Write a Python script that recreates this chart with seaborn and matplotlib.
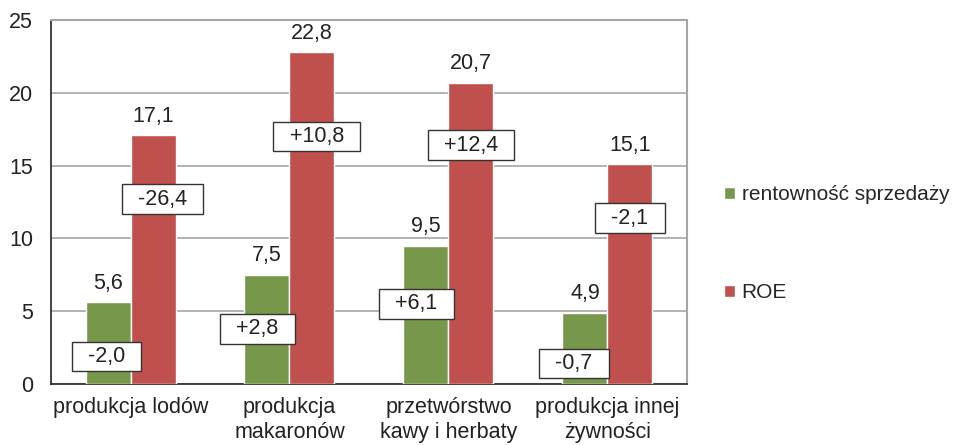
import pandas as pd
import matplotlib
matplotlib.use('Agg')
import matplotlib.pyplot as plt
import seaborn as sns

# Data
categories = ['produkcja lodów', 'produkcja\nmakaronów', 'przetwórstwo\nkawy i herbaty', 'produkcja innej\nżywności']
series_names = ['rentowność sprzedaży', 'ROE']
sales_margin = [5.6, 7.5, 9.5, 4.9]
roe = [17.1, 22.8, 20.7, 15.1]

# Boxed change labels (text and the height where the box sits)
margin_change = ['-2,0', '+2,8', '+6,1', '-0,7']
margin_change_y = [1.9, 3.8, 5.5, 1.4]
roe_change = ['-26,4', '+10,8', '+12,4', '-2,1']
roe_change_y = [12.7, 17.0, 16.4, 11.4]

df = pd.DataFrame({
    'kategoria': categories * 2,
    'seria': [series_names[0]] * 4 + [series_names[1]] * 4,
    'wartosc': sales_margin + roe,
})

sns.set_style('white')
plt.rcParams['font.family'] = ['Liberation Sans', 'DejaVu Sans']

colors = ['#77984B', '#C0504D']
fs = 15.5

fig = plt.figure(figsize=(9.54, 4.45), dpi=100)
ax = fig.add_axes([0.0535, 0.137, 0.6665, 0.818])

sns.barplot(data=df, x='kategoria', y='wartosc', hue='seria', palette=colors,
            width=0.566, gap=0, saturation=1, ax=ax, zorder=3)

# Value labels above bars, Polish decimal comma
for cont in ax.containers:
    labels = [f'{b.get_height():.1f}'.replace('.', ',') for b in cont]
    ax.bar_label(cont, labels=labels, padding=6, fontsize=fs, color='#222222')

# Boxed labels centred on bars
box_style = dict(boxstyle='square,pad=0.2', fc='white', ec='#333333', lw=1)
for cont, texts, ys, dx in [(ax.containers[0], margin_change, margin_change_y, [-0.01, -0.06, -0.06, -0.07]),
                            (ax.containers[1], roe_change, roe_change_y, [0.06, 0.03, 0.0, 0.0])]:
    for bar, t, y, d in zip(cont, texts, ys, dx):
        xc = bar.get_x() + bar.get_width() / 2 + d
        ax.text(xc, y, '  ' + t + '  ', ha='center', va='center', fontsize=fs,
                color='#222222', bbox=box_style, zorder=5)

ax.set_ylim(0, 25)
ax.set_xlim(-0.5, 3.5)
ax.set_yticks(range(0, 26, 5))
ax.set_xlabel('')
ax.set_ylabel('')
ax.yaxis.grid(True, color='#A6A6A6', lw=1.2, zorder=0)
ax.set_axisbelow(True)

# category labels centred, tick marks on category boundaries
ax.set_xticks(range(4))
ax.set_xticklabels(categories, fontsize=fs, linespacing=1.25, color='#222222')
ax.tick_params(axis='x', which='major', length=0, pad=9)
ax.set_xticks([-0.5, 0.5, 1.5, 2.5, 3.5], minor=True)
ax.tick_params(axis='x', which='minor', length=6, width=1.2, color='#333333', direction='out')
ax.tick_params(axis='y', length=5, width=1.2, color='#333333', direction='out',
               labelsize=fs, labelcolor='#222222', pad=8)

for side in ['left', 'bottom']:
    ax.spines[side].set_color('#333333')
    ax.spines[side].set_linewidth(1.3)
for side in ['top', 'right']:
    ax.spines[side].set_color('#A6A6A6')
    ax.spines[side].set_linewidth(1.5)

ax.legend(loc='center left', bbox_to_anchor=(1.045, 0.385), frameon=False,
          fontsize=15, labelspacing=3.8, handlelength=0.55, handleheight=0.55,
          handletextpad=0.3, borderaxespad=0)

fig.savefig('out.png', dpi=100)
